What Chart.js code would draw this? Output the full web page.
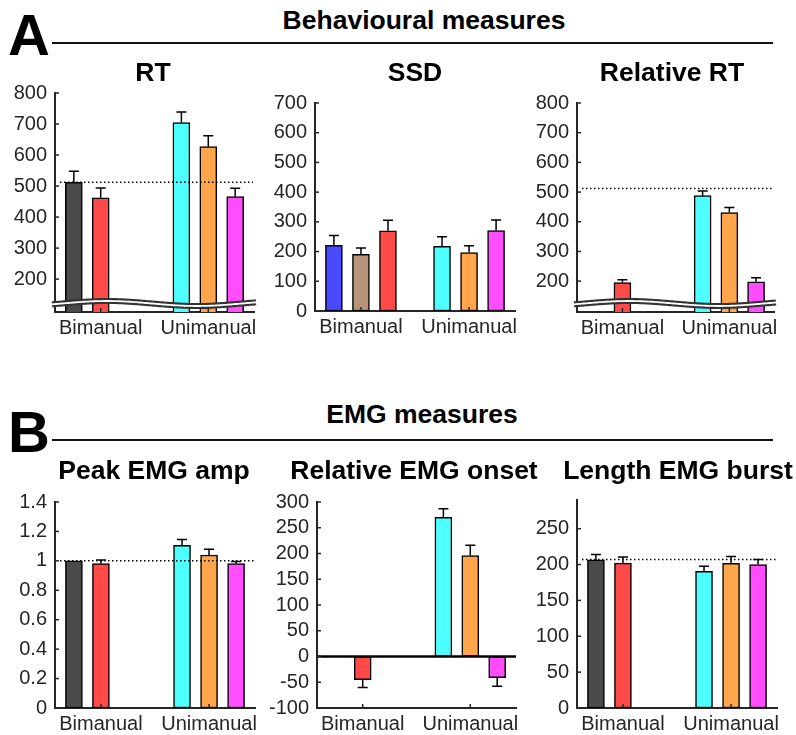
<!DOCTYPE html>
<html>
<head>
<meta charset="utf-8">
<script src="https://cdn.jsdelivr.net/npm/chart.js@4.4.1/dist/chart.umd.min.js"></script>
<style>
  body { margin: 0; background: #fff; font-family: "Liberation Sans", Arial, sans-serif; }
  #fig { position: relative; width: 796px; height: 735px; overflow: hidden; }
  .lbl { position: absolute; font-weight: bold; color: #000; white-space: nowrap; }
  .letter { font-size: 58px; line-height: 58px; }
  .head, .title { font-size: 26.5px; line-height: 26px; transform: translateX(-50%); }
  .rule { position: absolute; height: 0; border-top: 2px solid #111; }
  canvas { position: absolute; }
</style>
</head>
<body>
<div id="fig">
  <div class="lbl letter" style="left:8px; top:6px;">A</div>
  <div class="lbl head" style="left:424px; top:7px;">Behavioural measures</div>
  <div class="rule" style="left:52px; width:721px; top:42px;"></div>

  <div class="lbl letter" style="left:8px; top:403px;">B</div>
  <div class="lbl head" style="left:422px; top:401px;">EMG measures</div>
  <div class="rule" style="left:52px; width:721px; top:439px;"></div>
</div>

<script>
// ---- data ----
const groupLabels = ['Bimanual', 'Unimanual'];
const groupSlots = [2, 6];   // condition slot under each group label

// RT (ms)
const rtTicks = [200, 300, 400, 500, 600, 700, 800];
const rtMean = [512, 462, null, null, 705, 627, 466];
const rtSem  = [36, 32, null, null, 34, 35, 27];
const rtRef = 512;

// SSD (ms)
const ssdTicks = [0, 100, 200, 300, 400, 500, 600, 700];
const ssdMean = [221, 191, 270, null, 218, 197, 271];
const ssdSem  = [33, 21, 35, null, 32, 23, 35];

// Relative RT (ms)
const relTicks = [200, 300, 400, 500, 600, 700, 800];
const relMean = [null, 195, null, null, 488, 431, 198];
const relSem  = [null, 10, null, null, 16, 17, 13];
const relRef = 512;

// Peak EMG amplitude (normalised)
const ampTicks = [0, 0.2, 0.4, 0.6, 0.8, 1, 1.2, 1.4];
const ampMean = [1.0, 0.982, null, null, 1.105, 1.04, 0.982];
const ampSem  = [0, 0.023, null, null, 0.04, 0.039, 0.013];
const ampRef = 1;

// Relative EMG onset (ms)
const onsTicks = [-100, -50, 0, 50, 100, 150, 200, 250, 300];
const onsMean = [null, -45, null, null, 270, 196, -41];
const onsSem  = [null, 15, null, null, 17, 20, 17];

// Length EMG burst (ms)
const lenTicks = [0, 50, 100, 150, 200, 250];
const lenMean = [206.5, 202, null, null, 190.5, 201.6, 200];
const lenSem  = [7.5, 8.5, null, null, 7, 9.5, 7];
const lenRef = 207;

// ---- styles ----
const C = {
  dark: '#4a4a4a', red: '#ff4a4a', cyan: '#4dffff', orange: '#ffa64d',
  magenta: '#ff4dff', blue: '#4a4aff', tan: '#b8957a'
};
const colsA = [C.dark, C.red, null, null, C.cyan, C.orange, C.magenta];
const colsSSD = [C.blue, C.tan, C.red, null, C.cyan, C.orange, C.magenta];
const axisColor = '#262626';

Chart.defaults.font.family = '"Liberation Sans", Arial, sans-serif';
Chart.defaults.color = axisColor;

const fig = document.getElementById('fig');

function addTitle(text, cx, cy) {
  const d = document.createElement('div');
  d.className = 'lbl title';
  d.textContent = text;
  d.style.left = cx + 'px';
  d.style.top = (cy - 13) + 'px';
  fig.appendChild(d);
}

// wavy double line marking the broken y axis
function drawBreak(ctx, a) {
  const base = a.bottom - 8.5, amp = 2.5, per = 180, x0 = a.left + 52;
  ctx.beginPath();
  for (let px = a.left - 3; px <= a.right + 3; px += 2) {
    const yy = base - amp * Math.cos(2 * Math.PI * (px - x0) / per);
    if (px === a.left - 3) ctx.moveTo(px, yy); else ctx.lineTo(px, yy);
  }
  ctx.setLineDash([]);
  ctx.strokeStyle = '#333';
  ctx.lineWidth = 6;
  ctx.stroke();
  ctx.strokeStyle = '#fff';
  ctx.lineWidth = 1.8;
  ctx.stroke();
}

function decoPlugin(p) {
  return {
    id: 'deco',
    afterDatasetsDraw(chart) {
      const ctx = chart.ctx, a = chart.chartArea;
      const xs = chart.scales.x, ys = chart.scales.y;
      ctx.save();
      if (p.broken) drawBreak(ctx, a);

      // zero line
      if (p.zeroLine) {
        const y0 = ys.getPixelForValue(0);
        ctx.strokeStyle = '#000';
        ctx.lineWidth = 2.5;
        ctx.beginPath(); ctx.moveTo(a.left, y0); ctx.lineTo(a.right, y0); ctx.stroke();
      }

      // error bars (one-sided, away from zero)
      ctx.strokeStyle = '#000';
      ctx.lineWidth = 1.5;
      p.mean.forEach((m, i) => {
        if (m == null || !p.sem[i]) return;
        const px = xs.getPixelForValue(i + 1);
        const sgn = m < 0 ? -1 : 1;
        const y0 = ys.getPixelForValue(m);
        const y1 = ys.getPixelForValue(m + sgn * p.sem[i]);
        ctx.beginPath();
        ctx.moveTo(px, y0); ctx.lineTo(px, y1);
        ctx.moveTo(px - 5, y1); ctx.lineTo(px + 5, y1);
        ctx.stroke();
      });

      // dotted reference
      if (p.ref != null) {
        const yr = ys.getPixelForValue(p.ref);
        ctx.setLineDash([1.5, 2.5]);
        ctx.lineWidth = 1.5;
        ctx.strokeStyle = '#000';
        ctx.beginPath(); ctx.moveTo(a.left + 5, yr); ctx.lineTo(a.right - 1, yr); ctx.stroke();
        ctx.setLineDash([]);
      }

      // inward tick marks
      ctx.strokeStyle = axisColor;
      ctx.lineWidth = 1.5;
      ys.ticks.forEach(t => {
        const yy = ys.getPixelForValue(t.value);
        ctx.beginPath(); ctx.moveTo(a.left, yy); ctx.lineTo(a.left + 4, yy); ctx.stroke();
      });
      xs.ticks.forEach(t => {
        const xx = xs.getPixelForValue(t.value);
        ctx.beginPath(); ctx.moveTo(xx, a.bottom); ctx.lineTo(xx, a.bottom - 4); ctx.stroke();
      });
      ctx.restore();
    }
  };
}

function makePanel(p) {
  const padTop = 10, padRight = 8, yW = 50, xH = 32;
  const cv = document.createElement('canvas');
  const w = (p.box.right - p.box.left) + yW + padRight;
  const h = (p.box.bottom - p.box.top) + padTop + xH;
  cv.width = w; cv.height = h;
  cv.style.left = (p.box.left - yW) + 'px';
  cv.style.top = (p.box.top - padTop) + 'px';
  cv.style.width = w + 'px'; cv.style.height = h + 'px';
  fig.appendChild(cv);
  addTitle(p.title, p.titleX, p.titleY);

  const pts = [], cols = [];
  p.mean.forEach((m, i) => {
    if (m == null) return;
    pts.push({ x: i + 1, y: m });
    cols.push(p.colors[i]);
  });

  new Chart(cv.getContext('2d'), {
    type: 'bar',
    data: {
      datasets: [{
        data: pts,
        backgroundColor: cols,
        borderColor: '#000',
        borderWidth: 1.5,
        borderSkipped: false,
        barThickness: 17
      }]
    },
    options: {
      responsive: false,
      animation: false,
      devicePixelRatio: 1,
      layout: { padding: { top: padTop, right: padRight, left: 0, bottom: 0 } },
      plugins: { legend: { display: false }, tooltip: { enabled: false }, title: { display: false } },
      scales: {
        x: {
          type: 'linear',
          offset: false,
          min: 0.3, max: 7.7,
          grid: { display: false, drawTicks: false },
          border: { display: true, color: axisColor, width: 2 },
          afterBuildTicks: s => { s.ticks = groupSlots.map(v => ({ value: v })); },
          afterFit: s => { s.height = xH; },
          ticks: {
            autoSkip: false, maxRotation: 0, padding: 4,
            font: { size: 20 }, color: axisColor,
            callback: v => groupLabels[groupSlots.indexOf(v)] || ''
          }
        },
        y: {
          type: 'linear',
          min: p.min, max: p.max,
          grid: { display: false, drawTicks: false },
          border: { display: true, color: axisColor, width: 2 },
          afterBuildTicks: s => { s.ticks = p.ticks.map(v => ({ value: v })); },
          afterFit: s => { s.width = yW; },
          ticks: {
            autoSkip: false, padding: 8, font: { size: 20 }, color: axisColor,
            callback: v => String(v)
          }
        }
      }
    },
    plugins: [decoPlugin(p)]
  });
}

makePanel({ title: 'RT', titleX: 153, titleY: 72, box: { left: 55, right: 254, top: 83, bottom: 312 },
  min: 94, max: 800, ticks: rtTicks, mean: rtMean, sem: rtSem, ref: rtRef, colors: colsA, broken: true });
makePanel({ title: 'SSD', titleX: 415, titleY: 72, box: { left: 315, right: 515, top: 93, bottom: 311 },
  min: 0, max: 700, ticks: ssdTicks, mean: ssdMean, sem: ssdSem, ref: null, colors: colsSSD });
makePanel({ title: 'Relative RT', titleX: 672, titleY: 72, box: { left: 577, right: 775, top: 93, bottom: 312 },
  min: 96, max: 800, ticks: relTicks, mean: relMean, sem: relSem, ref: relRef, colors: colsA, broken: true });

makePanel({ title: 'Peak EMG amp', titleX: 154, titleY: 470, box: { left: 55, right: 255, top: 492, bottom: 708 },
  min: 0, max: 1.4, ticks: ampTicks, mean: ampMean, sem: ampSem, ref: ampRef, colors: colsA });
makePanel({ title: 'Relative EMG onset', titleX: 414, titleY: 470, box: { left: 317, right: 516, top: 492, bottom: 708 },
  min: -100, max: 300, ticks: onsTicks, mean: onsMean, sem: onsSem, ref: null, colors: colsA, zeroLine: true });
makePanel({ title: 'Length EMG burst', titleX: 678, titleY: 470, box: { left: 577, right: 777, top: 490, bottom: 708 },
  min: 0, max: 290, ticks: lenTicks, mean: lenMean, sem: lenSem, ref: lenRef, colors: colsA });
</script>
</body>
</html>
